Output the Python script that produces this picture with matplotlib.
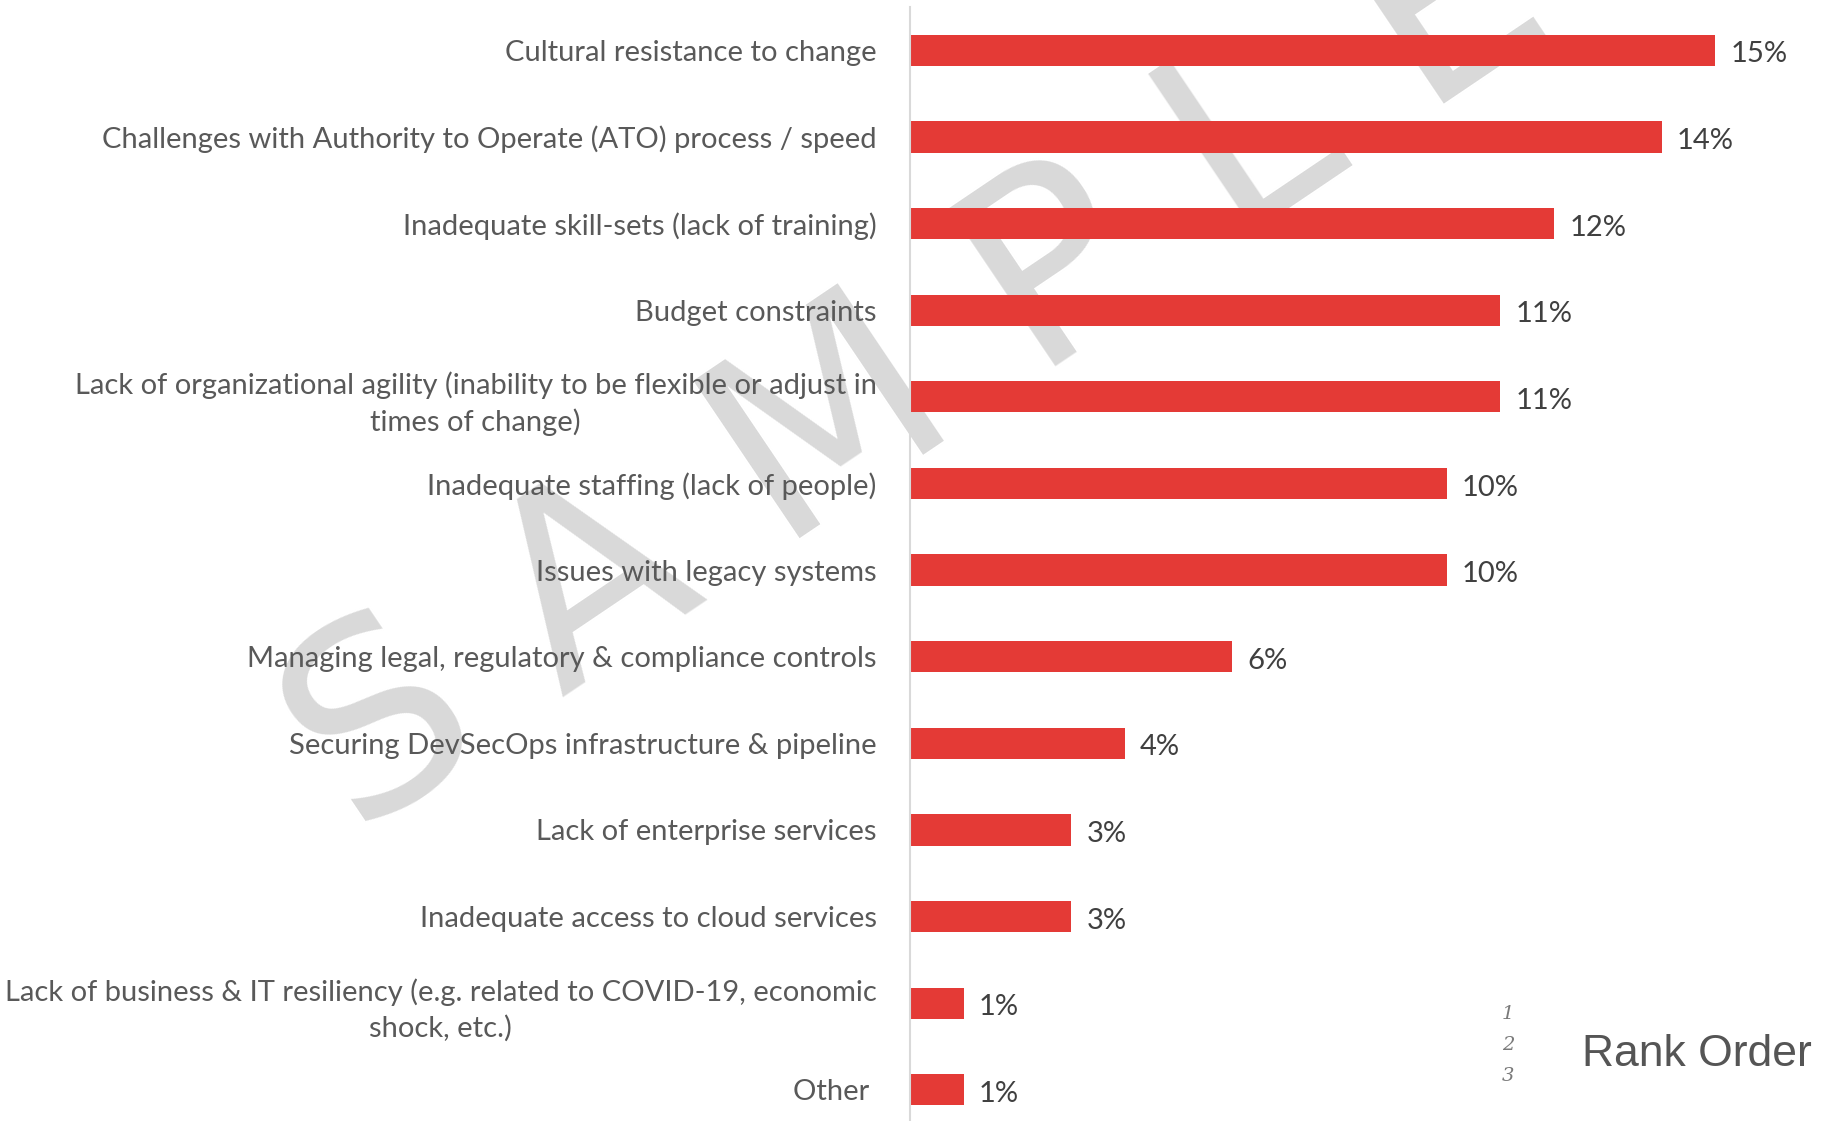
import matplotlib.pyplot as plt

# categories, top to bottom
categories = [
    "Cultural resistance to change",
    "Challenges with Authority to Operate (ATO) process / speed",
    "Inadequate skill-sets (lack of training)",
    "Budget constraints",
    "Lack of organizational agility (inability to be flexible or adjust in\ntimes of change)",
    "Inadequate staffing (lack of people)",
    "Issues with legacy systems",
    "Managing legal, regulatory & compliance controls",
    "Securing DevSecOps infrastructure & pipeline",
    "Lack of enterprise services",
    "Inadequate access to cloud services",
    "Lack of business & IT resiliency (e.g. related to COVID-19, economic\nshock, etc.)",
    "Other ",
]
values = [15, 14, 12, 11, 11, 10, 10, 6, 4, 3, 3, 1, 1]
rank_marks = ["1", "2", "3"]
legend_title = "Rank Order"
watermark = "S A M P L E"

W, H = 1827, 1121
fig = plt.figure(figsize=(W / 100, H / 100), dpi=100)
fig.patch.set_facecolor("white")

# watermark behind everything
fig.text(0.502, 0.668, watermark, rotation=34, fontsize=188, color="#D9D9D9",
         ha="center", va="center", family="DejaVu Sans", zorder=-1)

ax = fig.add_axes([910 / W, 0.0, 0.4995, 1 - 7 / H])
ax.patch.set_alpha(0)

y = list(range(len(categories)))
ax.barh(y, values, height=0.36, color="#E43A36", zorder=2)
ax.set_ylim(12.36, -0.5)
ax.set_xlim(0, 17)

ax.set_yticks(y)
ax.set_yticklabels(categories, fontsize=21, color="#595959", family="Lato")
for t in ax.get_yticklabels():
    t.set_multialignment("center")
    t.set_linespacing(1.42)
ax.tick_params(axis="y", length=0, pad=24)
ax.set_xticks([])

for s in ["top", "right", "bottom"]:
    ax.spines[s].set_visible(False)
ax.spines["left"].set_color("#D9D9D9")
ax.spines["left"].set_linewidth(1.5)

for yi, v in zip(y, values):
    ax.annotate(f"{v}%", (v, yi), xytext=(11, -3), textcoords="offset points",
                ha="left", va="center", fontsize=21, color="#404040", family="Lato")

# small rank-order legend at the bottom right
for i, m in enumerate(rank_marks):
    fig.text(1508 / W, 1 - (1014 + 31 * i) / H, m, fontsize=14, style="italic",
             family="DejaVu Serif", color="#7A7A7A", ha="center", va="center")
fig.text(1582 / W, 1 - 1054 / H, legend_title, fontsize=32, family="Liberation Sans",
         color="#555555", ha="left", va="center")

fig.savefig("out.png", dpi=100)
